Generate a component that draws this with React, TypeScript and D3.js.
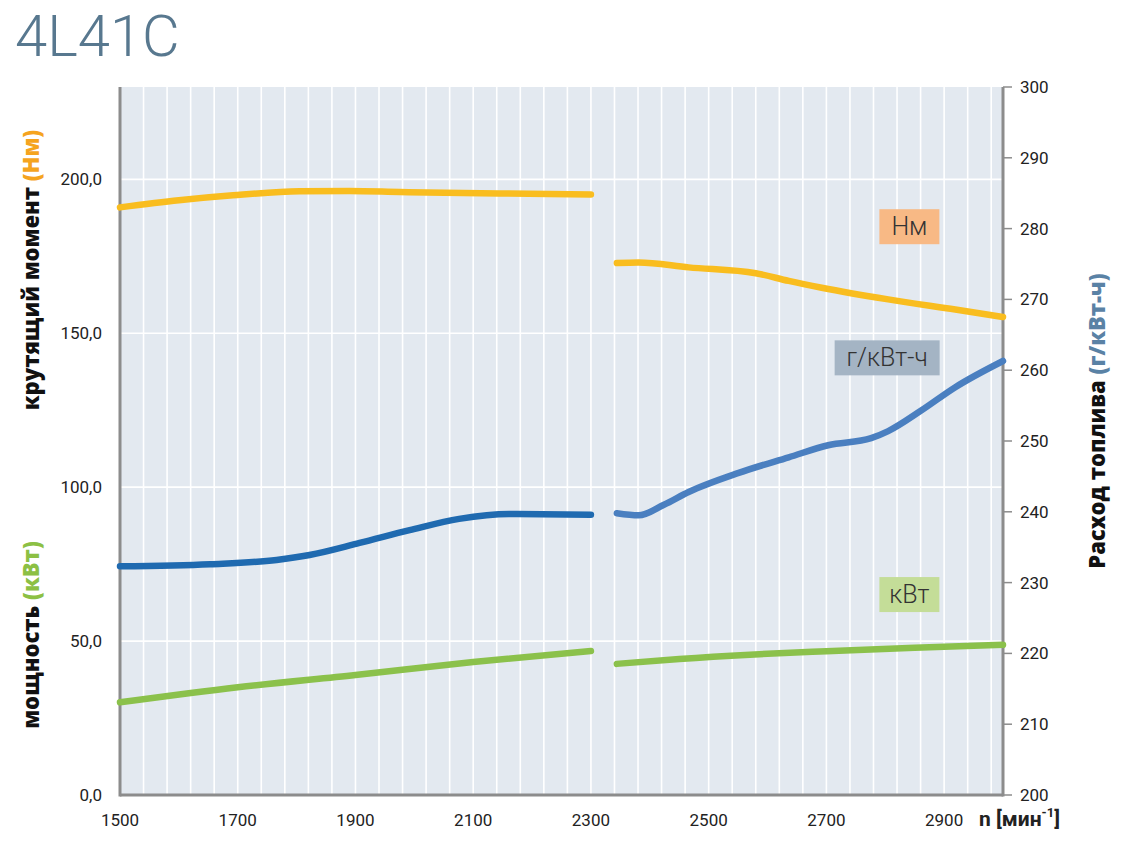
import React, { useEffect, useRef } from 'react';
import * as d3 from 'd3';

// torque, Nm (left axis) - two segments
const torqueA = [
  [1500, 190.9], [1600, 193.2], [1692, 194.8], [1805, 196.1], [1890, 196.2],
  [1975, 195.9], [2144, 195.4], [2300, 195.1]
];
const torqueB = [
  [2344, 172.8], [2381, 173.0], [2466, 171.4], [2580, 169.5], [2636, 167.0],
  [2692, 164.8], [2805, 161.0], [2919, 157.7], [3000, 155.3]
];
// specific fuel consumption, g/kWh (right axis)
const fuelA = [
  [1500, 232.3], [1653, 232.6], [1766, 233.2], [1822, 233.9], [1907, 235.6],
  [1992, 237.4], [2076, 239.0], [2161, 239.7], [2300, 239.6]
];
const fuelB = [
  [2344, 239.8], [2381, 239.5], [2424, 241.0], [2466, 242.8], [2551, 245.5],
  [2636, 247.7], [2703, 249.4], [2776, 250.4], [2805, 251.4], [2861, 254.3],
  [2919, 257.6], [3000, 261.3]
];
// power, kW (left axis)
const powerA = [
  [1500, 30.1], [1700, 35.0], [1900, 39.0], [2100, 43.2], [2300, 46.8]
];
const powerB = [
  [2344, 42.6], [2450, 44.2], [2570, 45.6], [2700, 46.7], [2850, 47.8], [3000, 48.8]
];

const xTicks = [1500, 1700, 1900, 2100, 2300, 2500, 2700, 2900];
const leftTicks = [0, 50, 100, 150, 200];
const rightTicks = [200, 210, 220, 230, 240, 250, 260, 270, 280, 290, 300];

const legendItems = [
  { label: 'Нм', fill: '#f8b985', x: 2790, y: 190.3, w: 60 },
  { label: 'г/кВт-ч', fill: '#a4b4c4', x: 2714, y: 147.7, w: 105 },
  { label: 'кВт', fill: '#c4dd98', x: 2790, y: 70.8, w: 60 }
];

const App = () => {
  const container = useRef(null);

  useEffect(() => {
    const width = 1126;
    const height = 842;
    const m = { l: 120, t: 87, r: 123, b: 47 };

    const x = d3.scaleLinear().domain([1500, 3000]).range([m.l, width - m.r]);
    const yL = d3.scaleLinear().domain([0, 230]).range([height - m.b, m.t]);
    const yR = d3.scaleLinear().domain([200, 300]).range([height - m.b, m.t]);

    const svg = d3.select(container.current);
    svg.selectAll('*').remove();
    svg.attr('width', width).attr('height', height);

    const font = 'Roboto, "DejaVu Sans", sans-serif';
    const boldFont = '"Open Sans", "DejaVu Sans", sans-serif';

    // title
    svg.append('text')
      .attr('x', 15).attr('y', 56)
      .attr('font-family', font).attr('font-weight', 300)
      .attr('font-size', 58).attr('fill', '#58788f')
      .text('4L41C');

    // plot bg
    svg.append('rect')
      .attr('x', m.l).attr('y', m.t)
      .attr('width', x(3000) - m.l).attr('height', yL(0) - m.t)
      .attr('fill', '#e3e9f0');

    // grid
    const vg = d3.range(1540, 3000, 40);
    svg.append('g').selectAll('line').data(vg).join('line')
      .attr('x1', d => x(d)).attr('x2', d => x(d))
      .attr('y1', m.t).attr('y2', yL(0))
      .attr('stroke', '#fff').attr('stroke-width', 1.6);
    svg.append('g').selectAll('line').data(leftTicks.slice(1)).join('line')
      .attr('x1', m.l).attr('x2', x(3000))
      .attr('y1', d => yL(d)).attr('y2', d => yL(d))
      .attr('stroke', '#fff').attr('stroke-width', 1.6);

    // axes lines
    const axisColor = '#8c8c8c';
    svg.append('line').attr('x1', m.l).attr('x2', m.l).attr('y1', m.t).attr('y2', yL(0) + 1.5)
      .attr('stroke', axisColor).attr('stroke-width', 3);
    svg.append('line').attr('x1', x(3000)).attr('x2', x(3000)).attr('y1', m.t).attr('y2', yL(0) + 1.5)
      .attr('stroke', axisColor).attr('stroke-width', 3);
    svg.append('line').attr('x1', m.l).attr('x2', x(3000)).attr('y1', yL(0)).attr('y2', yL(0))
      .attr('stroke', axisColor).attr('stroke-width', 3);

    // right ticks
    svg.append('g').selectAll('line').data(rightTicks).join('line')
      .attr('x1', x(3000)).attr('x2', x(3000) + 9)
      .attr('y1', d => yR(d)).attr('y2', d => yR(d))
      .attr('stroke', axisColor).attr('stroke-width', 1.5);
    svg.append('g').selectAll('text').data(rightTicks).join('text')
      .attr('x', x(3000) + 17).attr('y', d => yR(d) + 6)
      .attr('font-family', font).attr('font-size', 17).attr('fill', '#222')
      .text(d => d);

    // left tick labels
    svg.append('g').selectAll('text').data(leftTicks).join('text')
      .attr('x', 102).attr('y', d => yL(d) + 6)
      .attr('text-anchor', 'end')
      .attr('font-family', font).attr('font-size', 17).attr('fill', '#222')
      .text(d => d.toFixed(1).replace('.', ','));

    // bottom tick labels
    svg.append('g').selectAll('text').data(xTicks).join('text')
      .attr('x', d => x(d)).attr('y', 826)
      .attr('text-anchor', 'middle')
      .attr('font-family', font).attr('font-size', 17).attr('fill', '#222')
      .text(d => d);

    const nLab = svg.append('text')
      .attr('x', 979).attr('y', 826)
      .attr('font-family', font).attr('font-weight', 700)
      .attr('font-size', 21).attr('fill', '#222');
    nLab.append('tspan').text('n [мин');
    nLab.append('tspan').attr('font-size', 13).attr('dy', -9).text('-1');
    nLab.append('tspan').attr('dy', 9).text(']');

    // axis titles
    const vLabel = (cx, cy, main, unit, color) => {
      const t = svg.append('text')
        .attr('transform', `translate(${cx},${cy}) rotate(-90)`)
        .attr('text-anchor', 'middle')
        .attr('font-family', boldFont).attr('font-weight', 800)
        .attr('font-size', 22).attr('fill', '#111');
      t.append('tspan').text(main + ' ');
      t.append('tspan').attr('fill', color).text(unit);
    };
    vLabel(39, 270, 'крутящий момент', '(Нм)', '#f5a41f');
    vLabel(39, 635, 'мощность', '(кВт)', '#8cc044');
    vLabel(1105, 421, 'Расход топлива', '(г/кВт-ч)', '#5a82a5');

    // curves
    const lineL = d3.line().x(d => x(d[0])).y(d => yL(d[1])).curve(d3.curveMonotoneX);
    const lineR = d3.line().x(d => x(d[0])).y(d => yR(d[1])).curve(d3.curveMonotoneX);
    const series = [
      { data: powerA, gen: lineL, color: '#8bc14b' },
      { data: powerB, gen: lineL, color: '#8bc14b' },
      { data: fuelA, gen: lineR, color: '#1f6ab0' },
      { data: fuelB, gen: lineR, color: '#4a7fc0' },
      { data: torqueA, gen: lineL, color: '#f9bd1f' },
      { data: torqueB, gen: lineL, color: '#f9bd1f' }
    ];
    svg.append('g').selectAll('path').data(series).join('path')
      .attr('d', d => d.gen(d.data))
      .attr('fill', 'none')
      .attr('stroke', d => d.color)
      .attr('stroke-width', 6.5)
      .attr('stroke-linecap', 'round');

    // legend boxes
    const lg = svg.append('g').selectAll('g').data(legendItems).join('g')
      .attr('transform', d => `translate(${x(d.x)},${yL(d.y)})`);
    lg.append('rect')
      .attr('width', d => d.w).attr('height', 35)
      .attr('fill', d => d.fill);
    lg.append('text')
      .attr('x', d => d.w / 2).attr('y', 26)
      .attr('text-anchor', 'middle')
      .attr('font-family', font).attr('font-weight', 300)
      .attr('font-size', 25).attr('fill', '#333')
      .text(d => d.label);
  }, []);

  return (
    <svg ref={container} style={{ position: 'absolute', left: 0, top: 0 }}></svg>
  );
};

export default App;
